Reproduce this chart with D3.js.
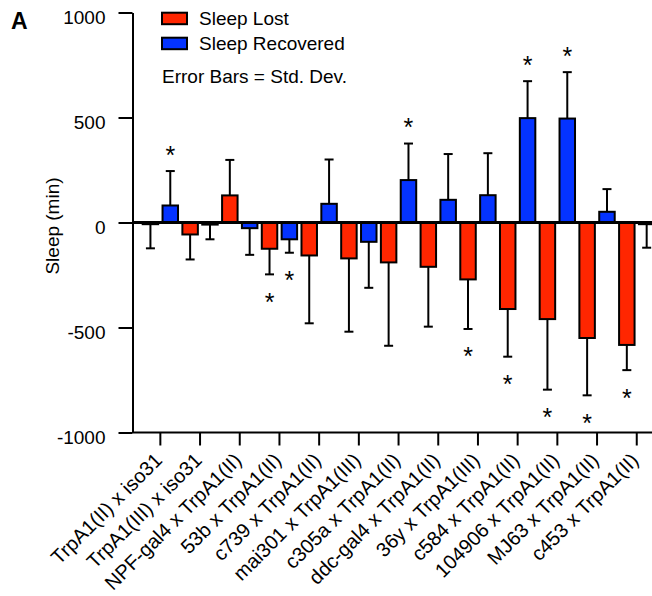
<!DOCTYPE html>
<html>
<head>
<meta charset="utf-8">
<script src="https://cdn.jsdelivr.net/npm/d3@7"></script>
<style>
  html, body { margin: 0; padding: 0; background: #fff; }
  svg { display: block; font-family: "Liberation Sans", Arial, Helvetica, sans-serif; }
</style>
</head>
<body>
<svg id="chart" width="652" height="596"></svg>
<script>
// Genotypes (GAL4 driver x TrpA1 insertion)
const categories = [
  "TrpA1(II) x iso31", "TrpA1(III) x iso31", "NPF-gal4 x TrpA1(II)",
  "53b x TrpA1(II)", "c739 x TrpA1(II)", "mai301 x TrpA1(III)",
  "c305a x TrpA1(II)", "ddc-gal4 x TrpA1(II)", "36y x TrpA1(III)",
  "c584 x TrpA1(II)", "104906 x TrpA1(II)", "MJ63 x TrpA1(II)", "c453 x TrpA1(II)"
];

// Sleep lost during activation (min) and its standard deviation
const sleepLost   = [-8, -57, 129, -125, -157, -171, -190, -211, -271, -412, -460, -550, -583];
const sleepLostSD = [115, 119, 169, 122, 323, 349, 397, 285, 236, 227, 336, 273, 120];

// Sleep recovered afterwards (min) and its standard deviation
const sleepRecovered   = [81, -10, -27, -80, 89, -92, 202, 108, 130, 497, 495, 51, -8];
const sleepRecoveredSD = [164, 70, 127, 64, 211, 219, 174, 218, 200, 176, 221, 108, 112];

// Significance markers
const lostSignificant      = [false, false, false, true, false, false, false, false, true, true, true, true, true];
const recoveredSignificant = [true, false, false, true, false, false, true, false, false, true, true, false, false];

const yTicks = [-1000, -500, 0, 500, 1000];
const seriesNames = ["Sleep Lost", "Sleep Recovered"];
const seriesColors = ["#ff2600", "#0433ff"];

const svg = d3.select("#chart");

const x = d3.scaleBand().domain(categories).range([140.5, 140.5 + 13 * 39.7]).padding(0);
const sub = d3.scaleBand().domain(["lost", "rec"]).range([0, x.bandwidth()])
  .paddingInner(0.22).paddingOuter(0.11);
const y = d3.scaleLinear().domain([-1000, 1000]).range([432.5, 12.5]);

const axisX = 132.5;

// one row per bar
const rows = [];
categories.forEach((c, i) => {
  rows.push({ cat: c, key: "lost", v: sleepLost[i], sd: sleepLostSD[i], sig: lostSignificant[i], color: seriesColors[0] });
  rows.push({ cat: c, key: "rec", v: sleepRecovered[i], sd: sleepRecoveredSD[i], sig: recoveredSignificant[i], color: seriesColors[1] });
});
const cx = d => x(d.cat) + sub(d.key) + sub.bandwidth() / 2;
const errEnd = d => d.v >= 0 ? d.v + d.sd : d.v - d.sd;

// error bars (one-sided, away from zero)
const eb = svg.append("g").attr("stroke", "#000").attr("stroke-width", 2);
eb.selectAll("line.stem").data(rows).join("line")
  .attr("class", "stem")
  .attr("x1", cx).attr("x2", cx)
  .attr("y1", d => y(d.v)).attr("y2", d => y(errEnd(d)));
eb.selectAll("line.cap").data(rows).join("line")
  .attr("class", "cap")
  .attr("x1", d => cx(d) - 4.5).attr("x2", d => cx(d) + 4.5)
  .attr("y1", d => y(errEnd(d))).attr("y2", d => y(errEnd(d)));

// bars
svg.append("g").selectAll("rect").data(rows).join("rect")
  .attr("x", d => x(d.cat) + sub(d.key))
  .attr("width", sub.bandwidth())
  .attr("y", d => y(Math.max(0, d.v)))
  .attr("height", d => Math.abs(y(d.v) - y(0)))
  .attr("fill", d => d.color)
  .attr("stroke", "#000")
  .attr("stroke-width", 2);

// significance stars beyond the error bar
svg.append("g").selectAll("text").data(rows.filter(d => d.sig)).join("text")
  .attr("x", cx)
  .attr("y", d => (d.v >= 0 ? y(errEnd(d)) - 22 : y(errEnd(d)) + 22) + 14.5)
  .attr("text-anchor", "middle")
  .attr("font-size", 25)
  .text("*");

// zero line
svg.append("line")
  .attr("x1", axisX).attr("x2", 660)
  .attr("y1", y(0)).attr("y2", y(0))
  .attr("stroke", "#000").attr("stroke-width", 3);

// y axis
const gy = svg.append("g").attr("transform", `translate(${axisX},0)`)
  .call(d3.axisLeft(y).tickValues(yTicks).tickSize(14).tickSizeOuter(0).tickPadding(13)
    .tickFormat(d => String(d)));
gy.select(".domain").attr("stroke-width", 2);
gy.selectAll(".tick line").attr("stroke-width", 2);
gy.selectAll(".tick text").attr("font-size", 19).attr("fill", "#000")
  .attr("font-family", "Liberation Sans, Arial, sans-serif").attr("dy", "0.6em");

// x axis
const gx = svg.append("g").attr("transform", `translate(0,${y(-1000)})`)
  .call(d3.axisBottom(x).tickSize(13).tickSizeOuter(0).tickFormat(""));
gx.select(".domain").attr("d", `M${axisX},0H660`).attr("stroke-width", 2);
gx.selectAll(".tick line").attr("stroke-width", 2);

// rotated category labels
svg.append("g").selectAll("text").data(categories).join("text")
  .attr("transform", d => `translate(${x(d) + x.bandwidth() / 2 + 3},${y(-1000) + 29}) rotate(-45)`)
  .attr("text-anchor", "end")
  .attr("font-size", 20)
  .text(d => d);

// y axis title
svg.append("text")
  .attr("transform", `translate(59,226) rotate(-90)`)
  .attr("text-anchor", "middle")
  .attr("font-size", 19)
  .text("Sleep (min)");

// panel letter
svg.append("text").attr("x", 11).attr("y", 28.5)
  .attr("font-size", 23).attr("font-weight", "bold").text("A");

// legend
const lg = svg.append("g");
seriesNames.forEach((name, i) => {
  lg.append("rect").attr("x", 162).attr("y", 12.7 + i * 25).attr("width", 25).attr("height", 11.5)
    .attr("fill", seriesColors[i]).attr("stroke", "#000").attr("stroke-width", 2);
  lg.append("text").attr("x", 199).attr("y", 25.3 + i * 25).attr("font-size", 19).text(name);
});
lg.append("text").attr("x", 162).attr("y", 83.3).attr("font-size", 19).text("Error Bars = Std. Dev.");
</script>
</body>
</html>
